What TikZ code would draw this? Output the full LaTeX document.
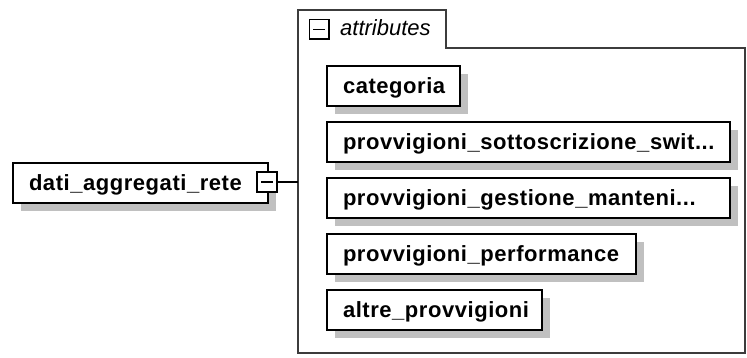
\documentclass[tikz,border=0pt]{standalone}
\usepackage{fontspec}
\setmainfont{Liberation Sans}
\newfontfamily\elfont{Liberation Sans}[LetterSpace=2.5]
\usetikzlibrary{shadows}
\definecolor{ombra}{RGB}{192,192,192}
\definecolor{bordo}{RGB}{60,60,60}

\begin{document}
\begin{tikzpicture}[x=1pt,y=-1pt,
    elemento/.style={draw=black,line width=1.8pt,fill=white,anchor=north west,
      outer sep=0pt,minimum height=40pt,text width=#1,inner xsep=16pt,inner ysep=0pt,
      text height=18pt,text depth=3pt,align=left,
      font=\elfont\bfseries\fontsize{22pt}{24pt}\selectfont,
      general shadow={fill=ombra,shadow xshift=8pt,shadow yshift=-8pt}},
    meno/.style={draw=black,line width=1.5pt,fill=white,minimum size=#1,
      inner sep=0pt,outer sep=0pt,
      path picture={\draw[line width=1.5pt]
        ([xshift=-6pt]path picture bounding box.center) --
        ([xshift=6pt]path picture bounding box.center);}}]
  \useasboundingbox (0,0) rectangle (747,358);

  % contenitore degli attributi, con la linguetta in alto
  \draw[line width=1.8pt,draw=bordo] (298,10) -| (446,48) -| (745,353) -| (298,10) -- cycle;
  \coordinate (attrib) at (298,182);
  \node[meno=19.5pt] (tab) at (319,29.5) {};
  \node[anchor=base west,inner sep=0pt,font=\itshape\fontsize{22pt}{24pt}\selectfont]
    (titolo) at (340,35.5) {attributes};

  % elemento principale e il suo espansore
  \node[elemento=223pt] (dati) at (13,163) {\mbox{dati\_aggregati\_rete}};
  \node[meno=20pt] (espandi) at (267,182) {};
  \draw[line width=1.8pt] (espandi.east) -- (attrib);

  % i cinque attributi, uno sotto l'altro
  \foreach \nome/\testo/\larg [count=\i] in {
      cat/categoria/101pt,
      sott/provvigioni\_sottoscrizione\_swit.{}.{}./371pt,
      gest/provvigioni\_gestione\_manteni.{}.{}./371pt,
      perf/provvigioni\_performance/277pt,
      altre/altre\_provvigioni/183pt} {
    \node[elemento=\larg] (\nome) at (327,{10+56*\i}) {\mbox{\testo}};
  }
\end{tikzpicture}
\end{document}
